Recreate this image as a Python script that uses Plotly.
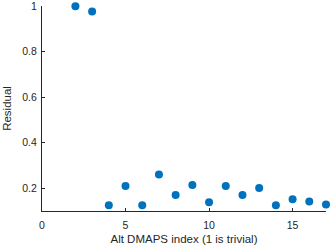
import plotly.graph_objects as go

idx = [2, 3, 4, 5, 6, 7, 8, 9, 10, 11, 12, 13, 14, 15, 16, 17]
residual = [1.0, 0.977, 0.125, 0.21, 0.125, 0.26, 0.17, 0.214, 0.138, 0.21, 0.17, 0.201, 0.125, 0.152, 0.142, 0.129]
x_ticks = [0, 5, 10, 15]
y_ticks = [0.2, 0.4, 0.6, 0.8, 1]
y_ticktext = ["0.2", "0.4", "0.6", "0.8", "1"]

font_family = "Liberation Sans, Arial"

fig = go.Figure(go.Scatter(
    x=idx, y=residual, mode="markers",
    marker=dict(color="#0072BD", size=8, line=dict(width=0)),
    cliponaxis=False,
))

axis_common = dict(
    showgrid=False, zeroline=False, showline=True, linecolor="#262626", linewidth=1,
    ticks="inside", ticklen=3, tickcolor="#262626", tickwidth=1,
    tickfont=dict(family=font_family, size=10.5, color="#262626"),
    mirror=False, automargin=False, ticklabeloverflow="allow",
)

fig.update_xaxes(range=[0, 17.0001], tickvals=x_ticks, ticktext=[str(t) for t in x_ticks],
                 ticklabelstandoff=4,
                 title=dict(text="Alt DMAPS index (1 is trivial)", standoff=5,
                            font=dict(family=font_family, size=11.5, color="#262626")),
                 **axis_common)
fig.update_yaxes(range=[0.1, 1.001], tickvals=y_ticks, ticktext=y_ticktext,
                 ticklabelstandoff=2,
                 title=dict(text="Residual", standoff=8,
                            font=dict(family=font_family, size=11.5, color="#262626")),
                 **axis_common)

fig.update_layout(
    width=332, height=249,
    margin=dict(l=42, r=6, t=6, b=38),
    paper_bgcolor="white", plot_bgcolor="white",
    showlegend=False,
)

fig.write_html("out.html", config={"displayModeBar": False},
               post_script="document.body.style.margin='0px';")
